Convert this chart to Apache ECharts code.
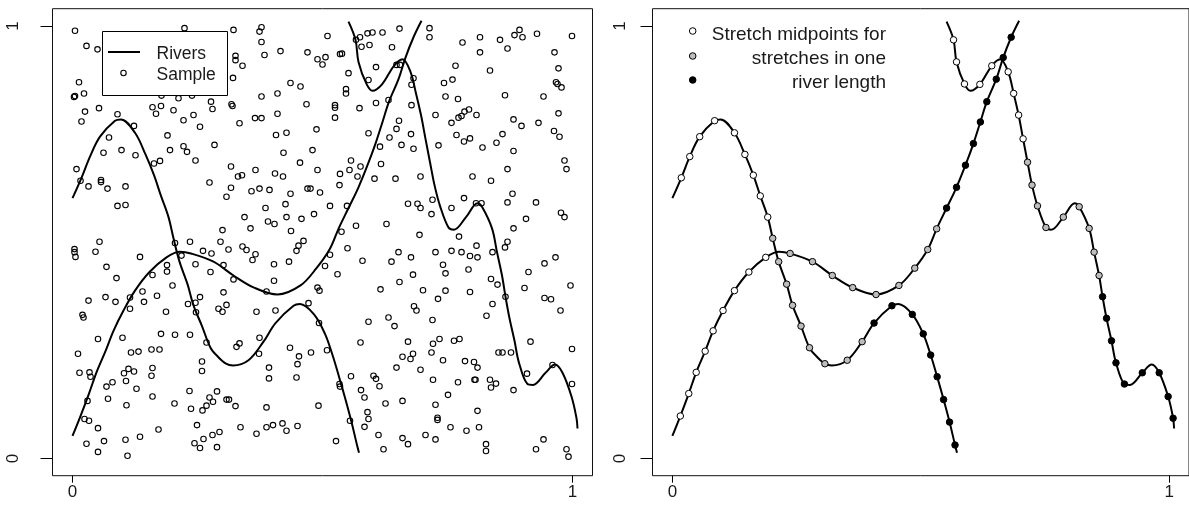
<!DOCTYPE html>
<html><head><meta charset="utf-8">
<script src="https://cdn.jsdelivr.net/npm/echarts@6/dist/echarts.min.js"></script>
<style>html,body{margin:0;padding:0;background:#fff}#c{width:1189px;height:524px}</style>
</head><body><div id="c"></div>
<script>
// ---- tick labels ----
const tickValues = [0, 1];

// ---- rivers (x, y) ----
const riverA = [[0.000,0.602],[0.018,0.649],[0.035,0.698],[0.055,0.744],[0.085,0.781],[0.097,0.784],[0.125,0.753],[0.146,0.703],[0.163,0.655],[0.177,0.607],[0.192,0.558],[0.202,0.509],[0.214,0.455],[0.230,0.403],[0.242,0.354],[0.259,0.306],[0.276,0.256],[0.291,0.235],[0.307,0.219],[0.321,0.215],[0.352,0.227],[0.382,0.270],[0.406,0.313],[0.442,0.353],[0.455,0.357],[0.483,0.333],[0.505,0.288],[0.520,0.239],[0.533,0.189],[0.546,0.136],[0.558,0.084],[0.569,0.031],[0.573,0.013]];
const riverB = [[0.000,0.052],[0.016,0.098],[0.033,0.150],[0.048,0.199],[0.066,0.248],[0.082,0.295],[0.102,0.342],[0.125,0.388],[0.154,0.431],[0.188,0.465],[0.215,0.478],[0.237,0.474],[0.282,0.455],[0.322,0.423],[0.363,0.395],[0.410,0.379],[0.456,0.400],[0.488,0.440],[0.514,0.483],[0.532,0.531],[0.552,0.579],[0.572,0.627],[0.590,0.678],[0.606,0.728],[0.620,0.778],[0.633,0.825],[0.652,0.877],[0.666,0.927],[0.682,0.974],[0.698,1.012]];
const riverC = [[0.552,1.010],[0.566,0.968],[0.572,0.917],[0.588,0.866],[0.600,0.850],[0.619,0.865],[0.643,0.908],[0.660,0.923],[0.676,0.894],[0.687,0.844],[0.697,0.794],[0.706,0.739],[0.715,0.685],[0.724,0.632],[0.735,0.584],[0.752,0.534],[0.763,0.529],[0.787,0.558],[0.810,0.590],[0.819,0.582],[0.839,0.532],[0.849,0.477],[0.859,0.423],[0.866,0.374],[0.874,0.324],[0.884,0.272],[0.893,0.221],[0.910,0.172],[0.921,0.170],[0.946,0.198],[0.965,0.217],[0.980,0.198],[0.998,0.143],[1.008,0.093],[1.010,0.069]];

// ---- stretch midpoints, by group ----
const midsWhite = [[0.018,0.649],[0.035,0.698],[0.055,0.744],[0.085,0.781],[0.125,0.753],[0.146,0.703],[0.163,0.655],[0.177,0.607],[0.192,0.558],
  [0.016,0.098],[0.033,0.150],[0.048,0.199],[0.066,0.248],[0.082,0.295],[0.102,0.342],[0.125,0.388],[0.154,0.431],[0.188,0.465],
  [0.566,0.968],[0.572,0.917],[0.588,0.866],[0.619,0.865],[0.643,0.908],[0.676,0.894],[0.687,0.844],[0.697,0.794],[0.706,0.739]];
const midsGrey = [[0.202,0.509],[0.214,0.455],[0.230,0.403],[0.242,0.354],[0.259,0.306],[0.276,0.256],[0.307,0.219],[0.352,0.227],[0.382,0.270],
  [0.237,0.474],[0.282,0.455],[0.322,0.423],[0.363,0.395],[0.410,0.379],[0.456,0.400],[0.488,0.440],[0.514,0.483],[0.532,0.531],
  [0.715,0.685],[0.724,0.632],[0.735,0.584],[0.752,0.534],[0.787,0.558],[0.819,0.582],[0.839,0.532],[0.849,0.477],[0.859,0.423]];
const midsBlack = [[0.406,0.313],[0.442,0.353],[0.483,0.333],[0.505,0.288],[0.520,0.239],[0.533,0.189],[0.546,0.136],[0.558,0.084],[0.569,0.031],
  [0.552,0.579],[0.572,0.627],[0.590,0.678],[0.606,0.728],[0.620,0.778],[0.633,0.825],[0.652,0.877],[0.666,0.927],[0.682,0.974],
  [0.866,0.374],[0.874,0.324],[0.884,0.272],[0.893,0.221],[0.910,0.172],[0.946,0.198],[0.980,0.198],[0.998,0.143],[1.008,0.093]];

// ---- sample points ----
const samplesNW = [[0.005,0.989],[0.028,0.954],[0.050,0.946],[0.013,0.870],[0.003,0.836],[0.005,0.838],[0.023,0.844],[0.025,0.802],[0.053,0.810],[0.018,0.779],[0.090,0.796],[0.123,0.769],[0.073,0.742],[0.062,0.707],[0.098,0.713],[0.126,0.701],[0.008,0.669],[0.016,0.642],[0.032,0.629],[0.057,0.644],[0.057,0.639],[0.070,0.624],[0.106,0.629],[0.090,0.584],[0.106,0.586],[0.163,0.682],[0.175,0.688],[0.160,0.812],[0.177,0.815],[0.167,0.797],[0.202,0.805],[0.212,0.833],[0.239,0.839],[0.277,0.825],[0.280,0.808],[0.178,0.839],[0.222,0.782],[0.242,0.794],[0.255,0.767],[0.190,0.747],[0.195,0.713],[0.222,0.722],[0.229,0.709],[0.246,0.689],[0.284,0.725],[0.274,0.638],[0.224,0.995],[0.300,0.528]];
const samplesN = [[0.322,0.991],[0.378,0.997],[0.374,0.987],[0.378,0.963],[0.510,0.977],[0.326,0.931],[0.326,0.921],[0.340,0.908],[0.384,0.933],[0.416,0.942],[0.470,0.939],[0.490,0.923],[0.506,0.928],[0.500,0.911],[0.535,0.935],[0.539,0.936],[0.552,0.891],[0.321,0.880],[0.436,0.868],[0.456,0.860],[0.378,0.837],[0.410,0.844],[0.547,0.854],[0.547,0.844],[0.318,0.819],[0.320,0.815],[0.468,0.819],[0.525,0.817],[0.525,0.811],[0.525,0.788],[0.574,0.810],[0.607,0.822],[0.632,0.829],[0.365,0.787],[0.378,0.787],[0.410,0.797],[0.334,0.775],[0.407,0.748],[0.428,0.753],[0.488,0.761],[0.592,0.752],[0.653,0.781],[0.648,0.762],[0.634,0.742],[0.658,0.725],[0.615,0.721],[0.422,0.707],[0.480,0.713],[0.455,0.684],[0.317,0.675],[0.331,0.652],[0.339,0.655],[0.366,0.667],[0.405,0.659],[0.421,0.652],[0.490,0.667],[0.535,0.658],[0.534,0.632],[0.557,0.689],[0.554,0.667],[0.576,0.675],[0.570,0.652],[0.617,0.681],[0.604,0.647],[0.646,0.647],[0.317,0.626],[0.308,0.605],[0.358,0.618],[0.374,0.624],[0.394,0.621],[0.470,0.624],[0.476,0.624],[0.495,0.615],[0.436,0.612],[0.386,0.579],[0.426,0.588],[0.515,0.584],[0.549,0.584],[0.344,0.558],[0.391,0.548],[0.404,0.542],[0.428,0.558],[0.458,0.554],[0.483,0.565],[0.356,0.532],[0.437,0.526],[0.567,0.538],[0.628,0.542],[0.538,0.524],[0.567,0.968],[0.575,0.974],[0.590,0.983],[0.600,0.985],[0.620,0.985],[0.654,0.994],[0.578,0.952],[0.594,0.956],[0.639,0.951],[0.607,0.905],[0.592,0.875],[0.648,0.910],[0.655,0.910]];
const samplesNE = [[0.714,0.995],[0.714,0.974],[0.780,0.962],[0.815,0.974],[0.815,0.939],[0.855,0.968],[0.870,0.948],[0.884,0.979],[0.894,0.991],[0.900,0.974],[0.929,0.982],[0.999,0.977],[0.964,0.939],[0.972,0.902],[0.967,0.870],[0.970,0.866],[0.978,0.858],[0.766,0.908],[0.835,0.897],[0.682,0.879],[0.678,0.864],[0.743,0.868],[0.760,0.876],[0.746,0.837],[0.771,0.831],[0.865,0.840],[0.942,0.837],[0.678,0.817],[0.726,0.794],[0.772,0.788],[0.778,0.792],[0.784,0.802],[0.793,0.807],[0.808,0.794],[0.758,0.776],[0.882,0.784],[0.898,0.769],[0.932,0.776],[0.972,0.798],[0.963,0.757],[0.974,0.744],[0.677,0.750],[0.682,0.716],[0.732,0.724],[0.768,0.748],[0.783,0.733],[0.795,0.740],[0.820,0.719],[0.848,0.730],[0.860,0.750],[0.882,0.711],[0.984,0.689],[0.988,0.669],[0.870,0.669],[0.696,0.652],[0.800,0.652],[0.837,0.642],[0.671,0.589],[0.690,0.589],[0.696,0.579],[0.720,0.598],[0.718,0.565],[0.758,0.579],[0.783,0.602],[0.807,0.590],[0.818,0.590],[0.870,0.592],[0.880,0.612],[0.927,0.592],[0.907,0.554],[0.977,0.568],[0.984,0.558],[0.694,0.517],[0.773,0.513],[0.882,0.532]];
const samplesSW = [[0.054,0.501],[0.004,0.484],[0.004,0.477],[0.006,0.466],[0.046,0.478],[0.135,0.466],[0.068,0.443],[0.088,0.417],[0.032,0.365],[0.066,0.373],[0.086,0.362],[0.020,0.332],[0.022,0.326],[0.115,0.372],[0.115,0.346],[0.140,0.386],[0.143,0.362],[0.160,0.424],[0.189,0.447],[0.189,0.432],[0.200,0.400],[0.169,0.376],[0.187,0.339],[0.205,0.498],[0.235,0.501],[0.261,0.480],[0.278,0.474],[0.246,0.449],[0.276,0.431],[0.296,0.501],[0.218,0.469],[0.255,0.373],[0.231,0.357],[0.246,0.360],[0.247,0.338],[0.292,0.346],[0.300,0.339],[0.051,0.276],[0.100,0.279],[0.177,0.288],[0.205,0.286],[0.235,0.286],[0.268,0.268],[0.011,0.242],[0.117,0.245],[0.132,0.247],[0.158,0.252],[0.174,0.252],[0.014,0.198],[0.034,0.199],[0.036,0.189],[0.103,0.197],[0.112,0.207],[0.123,0.201],[0.107,0.179],[0.160,0.209],[0.158,0.191],[0.259,0.224],[0.259,0.202],[0.068,0.166],[0.080,0.176],[0.128,0.161],[0.071,0.138],[0.030,0.133],[0.160,0.143],[0.108,0.123],[0.204,0.127],[0.234,0.156],[0.237,0.115],[0.260,0.111],[0.268,0.122],[0.274,0.141],[0.281,0.131],[0.289,0.155],[0.024,0.091],[0.033,0.087],[0.051,0.070],[0.172,0.067],[0.249,0.077],[0.280,0.054],[0.294,0.061],[0.028,0.034],[0.063,0.040],[0.106,0.043],[0.135,0.050],[0.051,0.015],[0.110,0.006],[0.244,0.035],[0.255,0.024],[0.262,0.045],[0.289,0.026]];
const samplesS = [[0.312,0.483],[0.340,0.490],[0.348,0.482],[0.366,0.472],[0.360,0.459],[0.452,0.492],[0.462,0.503],[0.448,0.480],[0.433,0.455],[0.403,0.449],[0.302,0.447],[0.322,0.414],[0.403,0.411],[0.388,0.386],[0.302,0.384],[0.515,0.471],[0.505,0.445],[0.530,0.426],[0.550,0.486],[0.490,0.395],[0.494,0.388],[0.580,0.457],[0.638,0.455],[0.652,0.477],[0.654,0.408],[0.616,0.391],[0.308,0.355],[0.368,0.339],[0.406,0.342],[0.472,0.359],[0.493,0.313],[0.592,0.316],[0.632,0.326],[0.644,0.306],[0.576,0.268],[0.328,0.258],[0.334,0.266],[0.374,0.279],[0.373,0.242],[0.435,0.256],[0.453,0.236],[0.450,0.218],[0.477,0.245],[0.509,0.250],[0.393,0.210],[0.393,0.185],[0.448,0.187],[0.534,0.172],[0.535,0.166],[0.557,0.190],[0.602,0.191],[0.607,0.184],[0.614,0.167],[0.577,0.158],[0.584,0.141],[0.660,0.235],[0.648,0.210],[0.660,0.133],[0.626,0.127],[0.308,0.136],[0.313,0.136],[0.326,0.121],[0.388,0.118],[0.492,0.122],[0.590,0.107],[0.592,0.091],[0.584,0.073],[0.555,0.087],[0.336,0.072],[0.368,0.057],[0.388,0.072],[0.401,0.077],[0.420,0.081],[0.428,0.064],[0.450,0.075],[0.612,0.054],[0.660,0.047],[0.527,0.040],[0.622,0.021]];
const samplesSE = [[0.808,0.492],[0.810,0.465],[0.795,0.468],[0.726,0.477],[0.758,0.480],[0.778,0.477],[0.677,0.465],[0.741,0.448],[0.746,0.428],[0.792,0.437],[0.681,0.425],[0.840,0.477],[0.865,0.488],[0.870,0.501],[0.944,0.451],[0.966,0.465],[0.912,0.431],[0.996,0.400],[0.904,0.394],[0.837,0.415],[0.850,0.402],[0.701,0.389],[0.746,0.388],[0.795,0.385],[0.731,0.369],[0.866,0.374],[0.944,0.371],[0.957,0.368],[0.976,0.342],[0.840,0.357],[0.828,0.330],[0.683,0.352],[0.688,0.342],[0.720,0.320],[0.671,0.270],[0.721,0.265],[0.734,0.276],[0.763,0.272],[0.774,0.276],[0.916,0.270],[0.999,0.253],[0.681,0.242],[0.676,0.230],[0.718,0.245],[0.741,0.227],[0.852,0.245],[0.860,0.245],[0.877,0.245],[0.785,0.225],[0.803,0.223],[0.810,0.210],[0.696,0.205],[0.721,0.182],[0.771,0.176],[0.804,0.182],[0.806,0.182],[0.835,0.182],[0.847,0.173],[0.837,0.164],[0.882,0.158],[0.909,0.196],[0.960,0.216],[0.999,0.172],[0.751,0.147],[0.726,0.124],[0.730,0.094],[0.730,0.089],[0.810,0.110],[0.756,0.072],[0.788,0.064],[0.813,0.072],[0.706,0.054],[0.726,0.044],[0.671,0.033],[0.827,0.033],[0.827,0.017],[0.942,0.044],[0.927,0.021],[0.988,0.021],[0.992,0.004]];
const samples = [].concat(samplesNW, samplesN, samplesNE, samplesSW, samplesS, samplesSE);

const legendLeft = ['Rivers', 'Sample'];
const legendRight = ['Stretch midpoints for', 'stretches in one', 'river length'];

// ---- chart ----
const FONT = '"Liberation Sans", Arial, sans-serif';
const TXT = '#1a1a1a';
const chart = echarts.init(document.getElementById('c'), null, {renderer: 'canvas'});

function xAxisFor(g) {
  return {type: 'value', gridIndex: g, min: -0.04, max: 1.04, position: 'bottom',
    axisLine: {show: false, onZero: false}, splitLine: {show: false},
    axisTick: {show: true, inside: false, customValues: tickValues, length: 7, lineStyle: {color: '#000', width: 1}},
    axisLabel: {customValues: tickValues, fontSize: 17, color: TXT, margin: 8, fontFamily: FONT}};
}
function yAxisFor(g, margin) {
  return {type: 'value', gridIndex: g, min: -0.04, max: 1.04, position: 'left',
    axisLine: {show: false, onZero: false}, splitLine: {show: false},
    axisTick: {show: true, inside: false, customValues: tickValues, length: 12, lineStyle: {color: '#000', width: 1}},
    axisLabel: {customValues: tickValues, fontSize: 17, color: TXT, margin: margin, rotate: 90, fontFamily: FONT}};
}
function riverSeries(data, g) {
  return {type: 'line', data: data, xAxisIndex: g, yAxisIndex: g, smooth: 0.35,
    symbol: 'none', showSymbol: false, silent: true, z: 2,
    lineStyle: {color: '#000', width: 2}};
}
function midSeries(data, fill) {
  return {type: 'scatter', data: data, xAxisIndex: 1, yAxisIndex: 1, symbol: 'circle', symbolSize: 6.5,
    silent: true, z: 5, itemStyle: {color: fill, borderColor: '#000', borderWidth: 1, opacity: 1}};
}

const gridBase = {top: 8.7, width: 540, height: 467, show: true, borderColor: '#111', borderWidth: 1, backgroundColor: 'transparent', containLabel: false};

chart.setOption({
  animation: false,
  backgroundColor: '#fff',
  grid: [Object.assign({left: 52.5}, gridBase), Object.assign({left: 652.5}, gridBase)],
  xAxis: [xAxisFor(0), xAxisFor(1)],
  yAxis: [yAxisFor(0, 31), yAxisFor(1, 24)],
  series: [
    {type: 'scatter', data: samples, xAxisIndex: 0, yAxisIndex: 0, symbol: 'circle', symbolSize: 5.5, silent: true, z: 3,
      itemStyle: {color: 'rgba(255,255,255,0)', borderColor: '#000', borderWidth: 1.1, opacity: 1}},
    riverSeries(riverA, 0), riverSeries(riverB, 0), riverSeries(riverC, 0),
    riverSeries(riverA, 1), riverSeries(riverB, 1), riverSeries(riverC, 1),
    midSeries(midsWhite, '#ffffff'), midSeries(midsGrey, '#bdbdbd'), midSeries(midsBlack, '#000000')
  ],
  graphic: [
    {type: 'rect', z: 100, shape: {x: 102.5, y: 31.5, width: 125, height: 64},
      style: {fill: '#fff', stroke: '#000', lineWidth: 1}},
    {type: 'line', z: 101, shape: {x1: 108, y1: 52, x2: 140, y2: 52}, style: {stroke: '#000', lineWidth: 2}},
    {type: 'circle', z: 101, shape: {cx: 123.5, cy: 73, r: 2.7}, style: {fill: 'none', stroke: '#000', lineWidth: 1.1}},
    {type: 'text', z: 101, x: 156.5, y: 54, style: {text: legendLeft[0], font: '17.5px ' + FONT, fill: TXT, textVerticalAlign: 'middle', verticalAlign: 'middle'}},
    {type: 'text', z: 101, x: 156.5, y: 75, style: {text: legendLeft[1], font: '17.5px ' + FONT, fill: TXT, textVerticalAlign: 'middle', verticalAlign: 'middle'}},
    {type: 'circle', z: 101, shape: {cx: 692.7, cy: 31, r: 3.3}, style: {fill: '#fff', stroke: '#000', lineWidth: 1}},
    {type: 'circle', z: 101, shape: {cx: 692.7, cy: 56, r: 3.3}, style: {fill: '#bdbdbd', stroke: '#000', lineWidth: 1}},
    {type: 'circle', z: 101, shape: {cx: 692.7, cy: 80, r: 3.3}, style: {fill: '#000', stroke: '#000', lineWidth: 1}},
    {type: 'text', z: 101, x: 886, y: 35, style: {text: legendRight[0], font: '19px ' + FONT, fill: TXT, align: 'right', textAlign: 'right', verticalAlign: 'middle', textVerticalAlign: 'middle'}},
    {type: 'text', z: 101, x: 886, y: 58.5, style: {text: legendRight[1], font: '19px ' + FONT, fill: TXT, align: 'right', textAlign: 'right', verticalAlign: 'middle', textVerticalAlign: 'middle'}},
    {type: 'text', z: 101, x: 886, y: 82.5, style: {text: legendRight[2], font: '19px ' + FONT, fill: TXT, align: 'right', textAlign: 'right', verticalAlign: 'middle', textVerticalAlign: 'middle'}}
  ]
});
</script></body></html>
